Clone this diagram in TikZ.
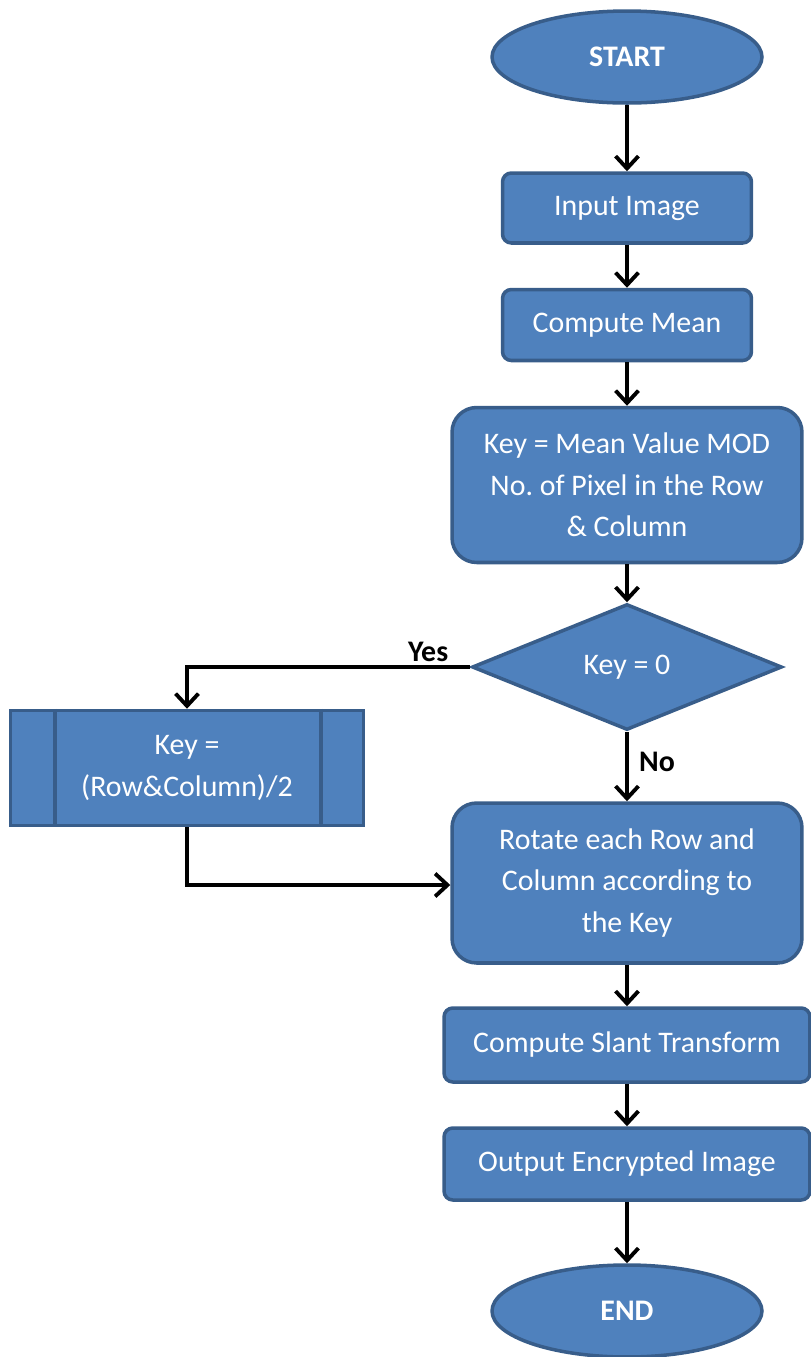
\documentclass[tikz,border=0pt]{standalone}
\usepackage{fontspec}
\setmainfont{Carlito}
\usetikzlibrary{arrows.meta, positioning, calc, shapes.geometric}
\definecolor{boxfill}{HTML}{4F81BD}
\definecolor{boxline}{HTML}{385D8A}

\tikzset{
  flowbox/.style={draw=boxline, fill=boxfill, line width=2pt, text=white,
                  font=\fontsize{17}{23.5}\selectfont, align=center},
  termnode/.style={flowbox, ellipse, minimum width=5.4cm, minimum height=1.84cm,
                   font=\fontsize{17}{23.5}\selectfont\bfseries},
  flowlabel/.style={black, font=\fontsize{17}{20}\selectfont\bfseries, inner sep=1pt},
  flowarrow/.style={-{Straight Barb[length=7pt,width=13pt]}, line width=2.2pt, black},
}

\begin{document}
\begin{tikzpicture}[x=0.02cm, y=-0.02cm]
    \useasboundingbox (0,0) rectangle (811,1357);

    \node[termnode] (start) at (627, 57) {START};
    \node[flowbox, rounded corners=5pt, minimum width=4.98cm, minimum height=1.4cm]
      (input) at (627, 208) {Input Image};
    \node[flowbox, rounded corners=5pt, minimum width=4.98cm, minimum height=1.42cm]
      (mean) at (627, 325) {Compute Mean};
    \node[flowbox, rounded corners=14pt, minimum width=7cm, minimum height=3.1cm]
      (keymod) at (627, 485) {Key = Mean Value MOD\\No.\ of Pixel in the Row\\\& Column};
    \node[flowbox, diamond, aspect=2.46, inner sep=1pt,
          minimum width=6.2cm, minimum height=2.52cm]
      (test) at (627, 667) {Key = 0};
    \node[flowbox, minimum width=7.06cm, minimum height=2.3cm]
      (keyhalf) at (187, 768) {Key =\\(Row\&Column)/2};
    \node[flowbox, rounded corners=14pt, minimum width=7cm, minimum height=3.2cm]
      (rotate) at (627, 883) {Rotate each Row and\\Column according to\\the Key};
    \node[flowbox, rounded corners=5pt, minimum width=7.32cm, minimum height=1.48cm]
      (slant) at (627, 1045) {Compute Slant Transform};
    \node[flowbox, rounded corners=5pt, minimum width=7.32cm, minimum height=1.44cm]
      (output) at (627, 1164) {Output Encrypted Image};
    \node[termnode] (end) at (627, 1311) {END};

    % side bars of the predefined process
    \draw[boxline, line width=2pt] ($(keyhalf.north west)+(46,0)$) -- ($(keyhalf.south west)+(46,0)$);
    \draw[boxline, line width=2pt] ($(keyhalf.north east)+(-44,0)$) -- ($(keyhalf.south east)+(-44,0)$);

    \draw[flowarrow] (start) -- (input);
    \draw[flowarrow] (input) -- (mean);
    \draw[flowarrow] (mean) -- (keymod);
    \draw[flowarrow] (keymod) -- (test);
    \draw[flowarrow] (test.west) -| (keyhalf.north);
    \node[flowlabel, anchor=south east] (yes) at ($(test.west)+(-20,-3)$) {Yes};
    \draw[flowarrow] (test.south) -- (rotate.north);
    \node[flowlabel, anchor=west] (no) at (637, 762) {No};
    \coordinate (bend) at (187, 885);
    \draw[flowarrow] (keyhalf.south) -- (bend) -- (rotate.west |- bend);
    \draw[flowarrow] (rotate) -- (slant);
    \draw[flowarrow] (slant) -- (output);
    \draw[flowarrow] (output) -- (end);
  \end{tikzpicture}
\end{document}
